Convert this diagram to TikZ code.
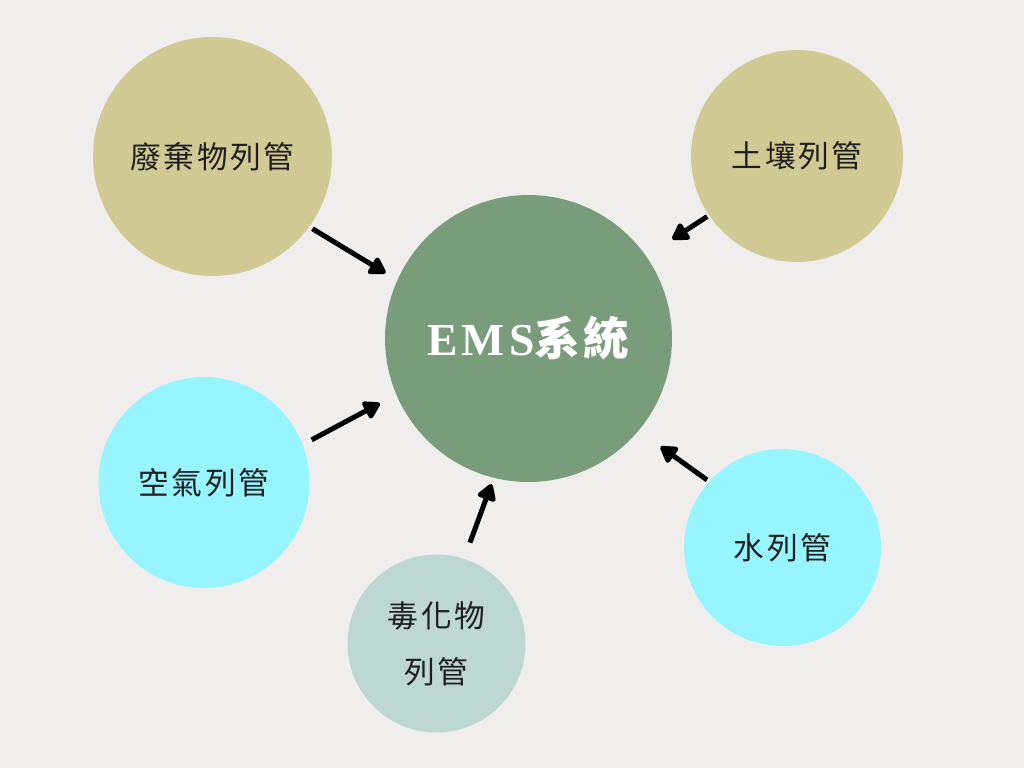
\documentclass[tikz,border=0pt]{standalone}
\usepackage{fontspec}
\usetikzlibrary{arrows.meta}
\newfontfamily\cjk[LetterSpace=8]{Noto Sans CJK TC}
\newfontfamily\emsfont[LetterSpace=9]{Liberation Serif}
\definecolor{PaperGray}{RGB}{239,238,236}
\definecolor{EmsGreen}{RGB}{121,156,122}
\definecolor{SoilKhaki}{RGB}{210,202,148}
\definecolor{AirCyan}{RGB}{151,245,255}
\definecolor{ToxicMint}{RGB}{189,216,210}

\begin{document}
\begin{tikzpicture}[
  x=0.02cm, y=-0.02cm,
  >={Triangle[length=0.37cm, width=0.42cm, round]},
  feed/.style={->, line width=0.1cm, draw=black},
  topic/.style={circle, inner sep=0pt, align=center, text=black!88,
                font=\cjk\fontsize{17.5pt}{32pt}\selectfont},
  khaki/.style={topic, fill=SoilKhaki},
  cyan/.style={topic, fill=AirCyan},
  mint/.style={topic, fill=ToxicMint},
  hub/.style={circle, inner sep=0pt, fill=EmsGreen, text=white,
              minimum size=5.74cm, font=\fontsize{26pt}{30pt}\selectfont}
]
\fill[PaperGray] (0,0) rectangle (1024,768);
\useasboundingbox (0,0) rectangle (1024,768);

% Central system and the five control areas.
\node[hub] (ems) at (528.5,338.5) {{\emsfont\bfseries EMS}{\cjk\bfseries 系統}};
\node[khaki, minimum size=4.78cm] (waste) at (212.5,156.5) {廢棄物列管};
\node[khaki, minimum size=4.24cm] (soil) at (797,156) {土壤列管};
\node[cyan, minimum size=4.22cm] (air) at (204,482.5) {空氣列管};
\node[cyan, minimum size=3.94cm] (water) at (782.5,547.5) {水列管};
\node[mint, minimum size=3.56cm] (toxic) at (436.5,643.5) {毒化物\\列管};

% Every area feeds the system.
\draw[feed, shorten <=0.07cm, shorten >=0.27cm] (waste.-36) -- (ems.156);
\draw[feed, shorten <=0.2cm, shorten >=0.37cm] (air.21.5) -- (ems.203.5);
\draw[feed, shorten <=0.04cm, shorten >=0.62cm] (soil.214) -- (ems.35);
\draw[feed, shorten <=0.05cm, shorten >=0.54cm] (water.138) -- (ems.-40);
\draw[feed, shorten <=0.34cm, shorten >=0.13cm] (toxic.72) -- (ems.-104);

\end{tikzpicture}
\end{document}
